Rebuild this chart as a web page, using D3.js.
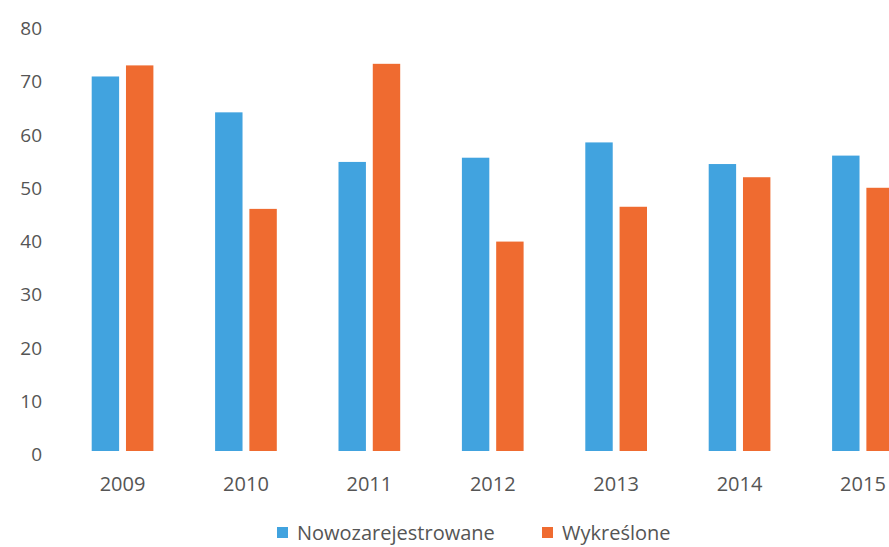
<!DOCTYPE html>
<html><head><meta charset="utf-8">
<script src="https://cdn.jsdelivr.net/npm/d3@7"></script>
<style>
body{margin:0;background:#fff;}
svg{display:block;}
text{font-family:"Open Sans",sans-serif;fill:#555;}
</style></head>
<body>
<svg id="chart" width="889" height="547"></svg>
<script>
const years = ["2009","2010","2011","2012","2013","2014","2015"];
const seriesNames = ["Nowozarejestrowane","Wykreślone"];
const nowozarejestrowane = [71.0, 64.2, 54.8, 55.6, 58.5, 54.4, 56.0];
const wykreslone = [73.1, 45.9, 73.4, 39.7, 46.3, 51.9, 49.9];
const yTicks = [0,10,20,30,40,50,60,70,80];
const colors = ["#41a3df","#ef6b30"];

const svg = d3.select("#chart");
const y = d3.scaleLinear().domain([0,80]).range([451,29]);
const yLab = d3.scaleLinear().domain([0,80]).range([454,28]);
const x0 = d3.scaleBand().domain(years).range([30,955.5]).padding(0.5);
const x1 = d3.scaleBand().domain(seriesNames).range([0,x0.bandwidth()]).paddingInner(0.2);
const color = d3.scaleOrdinal().domain(seriesNames).range(colors);

const data = years.map((yr,i)=>({year:yr, vals:[
  {s:seriesNames[0], v:nowozarejestrowane[i]},
  {s:seriesNames[1], v:wykreslone[i]}]}));

// y axis
const yAxis = d3.axisLeft(yLab).tickValues(yTicks).tickSize(0).tickPadding(0);
const gy = svg.append("g").attr("transform","translate(42,0)").call(yAxis);
gy.select(".domain").remove();
gy.selectAll("text").style("font-size","19px").attr("dy","0.35em").attr("fill","#555");

// bars
const g = svg.append("g").selectAll("g").data(data).join("g")
  .attr("transform",d=>`translate(${x0(d.year)},0)`);
g.selectAll("rect").data(d=>d.vals).join("rect")
  .attr("x",d=>x1(d.s)).attr("width",x1.bandwidth())
  .attr("y",d=>y(d.v)).attr("height",d=>y(0)-y(d.v))
  .attr("fill",d=>color(d.s));

// x axis
const xAxis = d3.axisBottom(x0).tickSize(0).tickPadding(0);
const gx = svg.append("g").attr("transform","translate(0,475)").call(xAxis);
gx.select(".domain").remove();
gx.selectAll("text").style("font-size","20px").attr("dy","0.35em").attr("y",9).attr("fill","#555");

// legend
const legendX = [277, 542];
const lg = svg.append("g").selectAll("g").data(seriesNames).join("g")
  .attr("transform",(d,i)=>`translate(${legendX[i]},527)`);
lg.append("rect").attr("width",11).attr("height",11).attr("fill",d=>color(d));
lg.append("text").attr("x",20).attr("y",6).attr("dy","0.35em")
  .style("font-size","20px").text(d=>d);
</script>
</body></html>
